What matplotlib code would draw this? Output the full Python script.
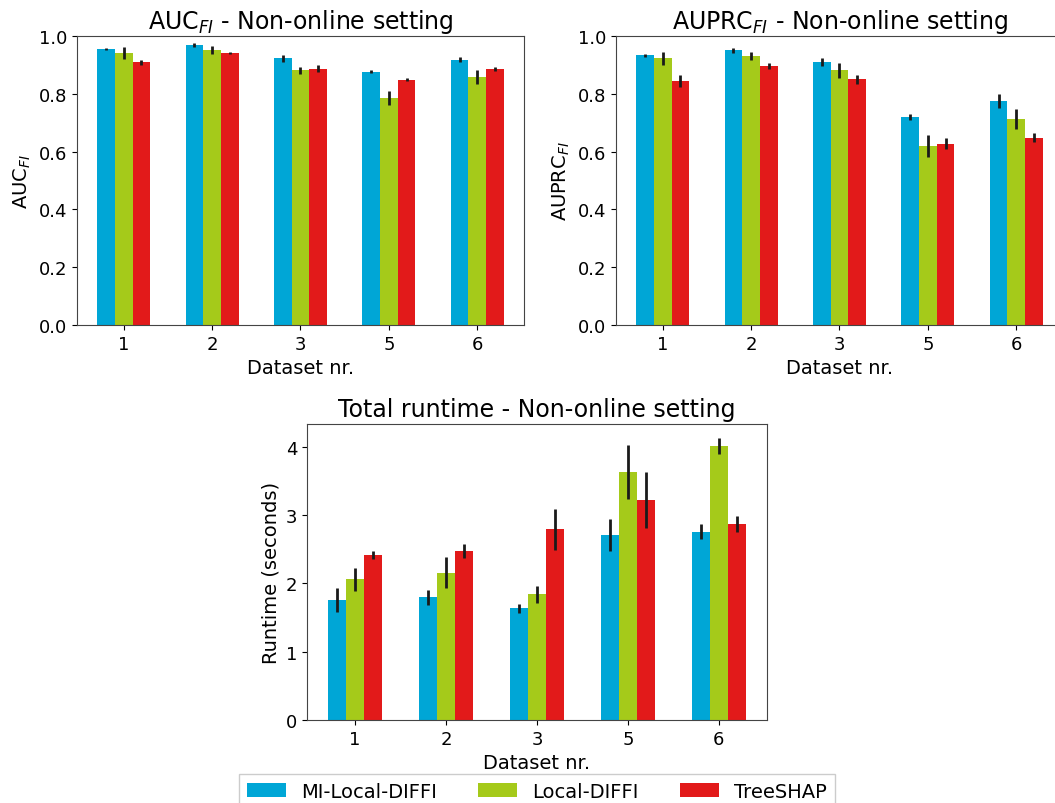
import numpy as np
import matplotlib
matplotlib.use("Agg")
import matplotlib.pyplot as plt

datasets = ["1", "2", "3", "5", "6"]
methods = ["MI-Local-DIFFI", "Local-DIFFI", "TreeSHAP"]
colors = ["#00A6D6", "#A5CA1A", "#E21A1A"]

# AUC_FI means and std
auc_mi = [0.955, 0.970, 0.923, 0.877, 0.918]
auc_local = [0.941, 0.951, 0.881, 0.784, 0.858]
auc_shap = [0.909, 0.941, 0.886, 0.849, 0.886]
auc_mi_err = [0.003, 0.007, 0.012, 0.006, 0.009]
auc_local_err = [0.020, 0.015, 0.013, 0.024, 0.024]
auc_shap_err = [0.008, 0.003, 0.012, 0.006, 0.007]

# AUPRC_FI means and std
auprc_mi = [0.933, 0.951, 0.909, 0.720, 0.775]
auprc_local = [0.923, 0.932, 0.882, 0.620, 0.712]
auprc_shap = [0.845, 0.896, 0.850, 0.628, 0.648]
auprc_mi_err = [0.006, 0.009, 0.014, 0.010, 0.023]
auprc_local_err = [0.023, 0.014, 0.026, 0.037, 0.034]
auprc_shap_err = [0.021, 0.011, 0.016, 0.019, 0.016]

# Runtime (seconds) means and std
rt_mi = [1.755, 1.799, 1.634, 2.710, 2.754]
rt_local = [2.056, 2.158, 1.838, 3.627, 4.005]
rt_shap = [2.415, 2.473, 2.793, 3.215, 2.865]
rt_mi_err = [0.18, 0.11, 0.07, 0.23, 0.11]
rt_local_err = [0.17, 0.22, 0.13, 0.40, 0.12]
rt_shap_err = [0.06, 0.10, 0.30, 0.41, 0.12]

W, H, DPI = 1055, 804, 100
fig = plt.figure(figsize=(W / DPI, H / DPI), dpi=DPI)

def px_axes(x0, x1, y0, y1):
    return fig.add_axes([x0 / W, 1 - y1 / H, (x1 - x0) / W, (y1 - y0) / H])

ax1 = px_axes(77, 524, 37, 326)
ax2 = px_axes(616, 1063, 37, 326)
ax3 = px_axes(307, 767, 425, 721)

width = 0.2
x = np.arange(len(datasets))

def grouped(ax, series, errs, title, ylabel, ylim=None):
    bars = []
    for i, (vals, err, c, name) in enumerate(zip(series, errs, colors, methods)):
        b = ax.bar(x + (i - 1) * width, vals, width, yerr=err, color=c,
                   label=name, error_kw=dict(ecolor="#1a1a1a", elinewidth=2, capsize=0))
        bars.append(b)
    ax.set_xticks(x)
    ax.set_xticklabels(datasets)
    ax.set_xlabel("Dataset nr.", fontsize=14)
    ax.set_ylabel(ylabel, fontsize=14)
    ax.set_title(title, fontsize=17)
    ax.tick_params(labelsize=13)
    if ylim is not None:
        ax.set_ylim(*ylim)
    for s in ax.spines.values():
        s.set_color("#444444")
    return bars

grouped(ax1, [auc_mi, auc_local, auc_shap], [auc_mi_err, auc_local_err, auc_shap_err],
        r"AUC$_{FI}$ - Non-online setting", r"AUC$_{FI}$", (0, 1.0))
grouped(ax2, [auprc_mi, auprc_local, auprc_shap], [auprc_mi_err, auprc_local_err, auprc_shap_err],
        r"AUPRC$_{FI}$ - Non-online setting", r"AUPRC$_{FI}$", (0, 1.0))
grouped(ax3, [rt_mi, rt_local, rt_shap], [rt_mi_err, rt_local_err, rt_shap_err],
        "Total runtime - Non-online setting", "Runtime (seconds)")
ax3.set_yticks([0, 1, 2, 3, 4])

ax3.legend(loc="upper center", bbox_to_anchor=(0.5, -0.149), ncol=3, fontsize=14,
           handlelength=2.0, columnspacing=2.1, fancybox=False, framealpha=1)

fig.savefig("out.png", dpi=DPI)
